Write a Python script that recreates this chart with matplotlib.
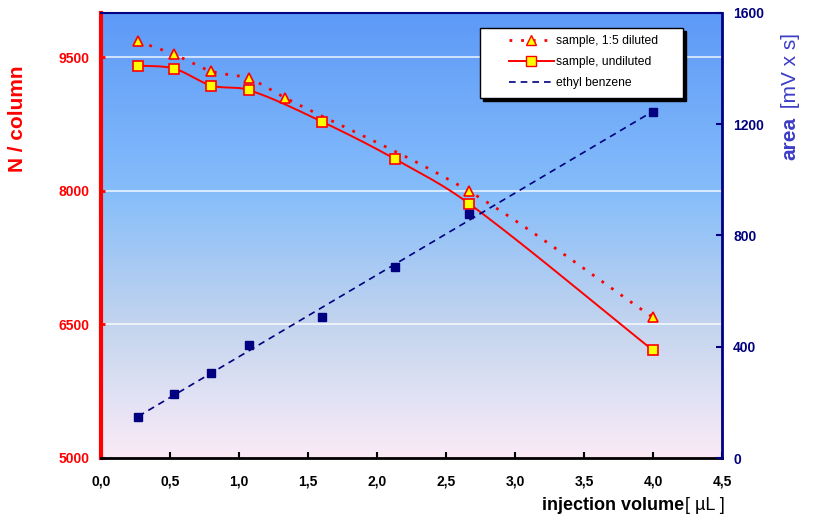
import numpy as np
import matplotlib
matplotlib.use("Agg")
import matplotlib.pyplot as plt
from matplotlib.lines import Line2D
from matplotlib.patches import Rectangle

plt.rcParams['font.family'] = ['Liberation Sans', 'DejaVu Sans']

# plate number data (left axis)
vol_dil = [0.27, 0.53, 0.80, 1.07, 1.33, 2.67, 4.00]
n_dil = [9680, 9535, 9345, 9265, 9050, 7995, 6580]

vol_und = [0.27, 0.53, 0.80, 1.07, 1.60, 2.13, 2.67, 4.00]
n_und = [9410, 9375, 9185, 9135, 8780, 8360, 7855, 6210]

# peak area data (right axis)
vol_eb = [0.27, 0.53, 0.80, 1.07, 1.60, 2.13, 2.67, 4.00]
area_eb = [148, 230, 306, 406, 507, 688, 876, 1245]

x_ticks = [0.0, 0.5, 1.0, 1.5, 2.0, 2.5, 3.0, 3.5, 4.0, 4.5]
n_ticks = [5000, 6500, 8000, 9500]
area_ticks = [0, 400, 800, 1200, 1600]

RED = '#FF0000'
NAVY = '#000080'


def smooth(x, y, n=40):
    # cubic hermite curve through the points, central-difference slopes
    x = np.asarray(x, float)
    y = np.asarray(y, float)
    m = np.empty_like(y)
    m[1:-1] = (y[2:] - y[:-2]) / (x[2:] - x[:-2])
    m[0] = (y[1] - y[0]) / (x[1] - x[0])
    m[-1] = (y[-1] - y[-2]) / (x[-1] - x[-2])
    xs, ys = [], []
    t = np.linspace(0, 1, n)
    for i in range(len(x) - 1):
        h = x[i + 1] - x[i]
        h00 = 2 * t ** 3 - 3 * t ** 2 + 1
        h10 = t ** 3 - 2 * t ** 2 + t
        h01 = -2 * t ** 3 + 3 * t ** 2
        h11 = t ** 3 - t ** 2
        xs.extend(x[i] + h * t)
        ys.extend(h00 * y[i] + h10 * h * m[i] + h01 * y[i + 1] + h11 * h * m[i + 1])
    return np.array(xs), np.array(ys)


fig = plt.figure(figsize=(8.15, 5.2), dpi=100)
ax = fig.add_axes([101 / 815, 62 / 520, 621 / 815, 445 / 520])
ax2 = ax.twinx()

# background gradient
stops = [(0.0, (93, 153, 247)), (0.4, (133, 189, 250)), (0.7, (195, 212, 238)),
         (0.87, (226, 226, 244)), (1.0, (251, 234, 246))]
fr = np.linspace(0, 1, 256)
grad = np.zeros((256, 1, 3))
for c in range(3):
    grad[:, 0, c] = np.interp(fr, [s[0] for s in stops], [s[1][c] for s in stops]) / 255
ax.imshow(grad, extent=[0, 4.5, 5000, 10000], aspect='auto', zorder=0)

ax.set_xlim(0, 4.5)
ax.set_ylim(5000, 10000)
ax2.set_ylim(0, 1600)

for v in n_ticks[1:]:
    ax.axhline(v, color='white', lw=1.3, alpha=0.75, zorder=1)

# N / column curves
sx, sy = smooth(vol_dil, n_dil)
ax.plot(sx, sy, color=RED, lw=2, linestyle=(0, (1, 3.2)), zorder=3)
ax.plot(vol_dil, n_dil, linestyle='none', marker='^', ms=7, mfc='#FFFF00',
        mec=RED, mew=1.2, zorder=4)
sx, sy = smooth(vol_und, n_und)
ax.plot(sx, sy, color=RED, lw=1.4, zorder=3)
ax.plot(vol_und, n_und, linestyle='none', marker='s', ms=6.5, mfc='#FFFF00',
        mec=RED, mew=1.2, zorder=5)

# ethyl benzene area with linear trend
k, b = np.polyfit(vol_eb, area_eb, 1)
xl = np.array([vol_eb[0], vol_eb[-1]])
ax2.plot(xl, k * xl + b, color=NAVY, lw=1.2, linestyle=(0, (4, 3)), zorder=3)
ax2.plot(vol_eb, area_eb, linestyle='none', marker='s', ms=6, mfc=NAVY,
         mec=NAVY, zorder=4)

ax.set_xticks(x_ticks)
ax.set_xticklabels([f'{v:.1f}'.replace('.', ',') for v in x_ticks])
ax.set_yticks(n_ticks)
ax2.set_yticks(area_ticks)

ax.tick_params(axis='x', direction='in', length=4, width=1.5, colors='black',
               pad=12, labelsize=10)
ax.tick_params(axis='y', direction='in', length=3, width=2, colors=RED,
               pad=8, labelsize=10)
ax2.tick_params(axis='y', direction='in', length=4, width=1.5, colors=NAVY,
                pad=8, labelsize=10)
for lab in ax.get_xticklabels() + ax.get_yticklabels() + ax2.get_yticklabels():
    lab.set_fontweight('bold')

ax.spines['left'].set_color(RED)
ax.spines['left'].set_linewidth(3)
ax.spines['bottom'].set_color('black')
ax.spines['bottom'].set_linewidth(2)
ax.spines['top'].set_color(NAVY)
ax.spines['top'].set_linewidth(1.5)
ax.spines['right'].set_visible(False)
ax2.spines['left'].set_visible(False)
ax2.spines['bottom'].set_visible(False)
ax2.spines['top'].set_visible(False)
ax2.spines['right'].set_color(NAVY)
ax2.spines['right'].set_linewidth(2)

# axis titles
fig.text(18 / 815, 1 - 119 / 520, 'N / column', rotation=90, color=RED,
         fontsize=15, fontweight='bold', ha='center', va='center')
fig.text(790 / 815, 1 - 160 / 520, 'area', rotation=90, rotation_mode='anchor',
         color='#3C3CC8', fontsize=15, fontweight='bold', ha='left', va='center')
fig.text(790 / 815, 1 - 33 / 520, ' [mV x s]', rotation=90, rotation_mode='anchor',
         color='#3C3CC8', fontsize=15, ha='right', va='center')
xlab = fig.text(542 / 815, 1 - 505 / 520, 'injection volume', fontsize=13,
                fontweight='bold', ha='left', va='center')
fig.canvas.draw()
bb = xlab.get_window_extent()
fig.text(bb.x1 / 815 + 1 / 815, 1 - 505 / 520, '[ µL ]', fontsize=13,
         ha='left', va='center')

# legend box with shadow
fig.patches.append(Rectangle((483 / 815, 1 - 101 / 520), 203 / 815, 70 / 520,
                             transform=fig.transFigure, facecolor='black',
                             edgecolor='black', zorder=10))
fig.patches.append(Rectangle((480 / 815, 1 - 98 / 520), 203 / 815, 70 / 520,
                             transform=fig.transFigure, facecolor='white',
                             edgecolor='black', lw=1, zorder=11))
handles = [
    Line2D([], [], color=RED, lw=2, linestyle=(0, (1, 3.2)), marker='^', ms=7,
           mfc='#FFFF00', mec=RED),
    Line2D([], [], color=RED, lw=1.4, marker='s', ms=6.5, mfc='#FFFF00', mec=RED),
    Line2D([], [], color=NAVY, lw=1.2, linestyle=(0, (4, 3))),
]
labels = ['sample, 1:5 diluted', 'sample, undiluted', 'ethyl benzene']
leg = fig.legend(handles, labels, loc='upper left',
                 bbox_to_anchor=(509 / 815, 1 - 35 / 520), frameon=False,
                 fontsize=8.7, handlelength=3.7, handletextpad=0.2,
                 labelspacing=0.75, borderpad=0, borderaxespad=0)
leg.set_zorder(12)

fig.savefig('out.png', dpi=100)
